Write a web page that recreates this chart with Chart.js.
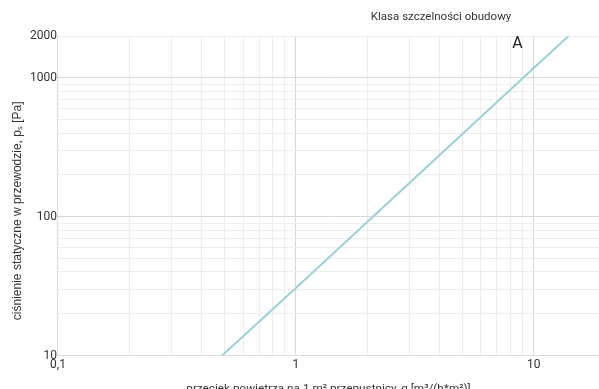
<!DOCTYPE html>
<html lang="pl">
<head>
<meta charset="utf-8">
<title>Klasa szczelności obudowy</title>
<script src="https://cdn.jsdelivr.net/npm/chart.js@4.4.1/dist/chart.umd.min.js"></script>
<style>
  html, body { margin: 0; padding: 0; background: #fff; overflow: hidden; }
  canvas { display: block; }
</style>
</head>
<body>
<canvas id="chart" width="599" height="396"></canvas>
<script>
// leakage line for casing class A (log-log)
const flowValues = [0.49, 1, 10, 14];
const pressureValues = [10, 30.6, 1175, 2000];

// grid positions and the labelled ones
const xGridValues = [0.1, 0.2, 0.3, 0.4, 0.5, 0.6, 0.7, 0.8, 0.9,
                     1, 2, 3, 4, 5, 6, 7, 8, 9, 10];
const xTickValues = [0.1, 1, 10];
const xTickLabels = ['0,1', '1', '10'];
const yGridValues = [10, 20, 30, 40, 50, 60, 70, 80, 90,
                     100, 200, 300, 400, 500, 600, 700, 800, 900,
                     1000, 2000];
const yTickValues = [10, 100, 1000, 2000];
const yTickLabels = ['10', '100', '1000', '2000'];

const chartTitle = 'Klasa szczelności obudowy';
const yAxisTitle = 'ciśnienie statyczne w przewodzie, pₛ [Pa]';
const xAxisTitle = 'przeciek powietrza na 1 m² przepustnicy, q [m³/(h*m²)]';
const classLabel = 'A';
const classLabelAt = [8.55, 1760];

function labelFor(values, labels, v) {
    const i = values.findIndex(t => Math.abs(t - v) / t < 1e-6);
    return i < 0 ? '' : labels[i];
}

function gridColor(majors) {
    return function (c) {
        const v = c.tick ? c.tick.value : null;
        if (v === null) return '#ececec';
        return majors.some(t => Math.abs(t - v) / t < 1e-6) ? '#d9d9d9' : '#ededed';
    };
}

// chart title, y axis title and the class letter next to the line
const annotations = {
    id: 'annotations',
    afterDraw(chart) {
        const ctx = chart.ctx;
        const area = chart.chartArea;
        const xs = chart.scales.x;
        const ys = chart.scales.y;
        ctx.save();
        ctx.textAlign = 'center';
        ctx.textBaseline = 'middle';

        ctx.fillStyle = '#333';
        ctx.font = '11.5px Roboto';
        ctx.fillText(chartTitle, area.left + area.width * 0.708, 17);

        ctx.fillStyle = '#222';
        ctx.font = '16px Roboto';
        ctx.fillText(classLabel, xs.getPixelForValue(classLabelAt[0]), ys.getPixelForValue(classLabelAt[1]));

        ctx.translate(17.5, area.top + area.height * 0.547);
        ctx.rotate(-Math.PI / 2);
        ctx.fillStyle = '#333';
        ctx.font = '12px "Liberation Sans"';
        ctx.fillText(yAxisTitle, 0, 0);
        ctx.restore();
    }
};

new Chart(document.getElementById('chart'), {
    type: 'line',
    data: {
        datasets: [{
            label: classLabel,
            data: flowValues.map((x, i) => ({ x: x, y: pressureValues[i] })),
            borderColor: '#9dd1d5',
            borderWidth: 2,
            pointRadius: 0,
            tension: 0,
            fill: false
        }]
    },
    options: {
        responsive: false,
        animation: false,
        layout: { padding: { top: 36, left: 29, right: 0, bottom: 0 } },
        plugins: {
            legend: { display: false },
            tooltip: { enabled: false }
        },
        scales: {
            x: {
                type: 'logarithmic',
                min: 0.1,
                max: 18.8,
                afterBuildTicks: scale => { scale.ticks = xGridValues.map(v => ({ value: v })); },
                ticks: {
                    autoSkip: false,
                    maxRotation: 0,
                    padding: 2,
                    color: '#333',
                    font: { family: 'Roboto', size: 12 },
                    callback: v => labelFor(xTickValues, xTickLabels, v)
                },
                grid: { color: gridColor(xTickValues), drawTicks: false },
                border: { color: '#dcdcdc' },
                title: {
                    display: true,
                    text: xAxisTitle,
                    color: '#333',
                    font: { family: 'Roboto', size: 11.75 },
                    padding: { top: 8, bottom: 0 }
                }
            },
            y: {
                type: 'logarithmic',
                min: 10,
                max: 2000,
                afterBuildTicks: scale => { scale.ticks = yGridValues.map(v => ({ value: v })); },
                ticks: {
                    autoSkip: false,
                    padding: 1,
                    color: '#333',
                    font: { family: 'Roboto', size: 12 },
                    callback: v => labelFor(yTickValues, yTickLabels, v)
                },
                grid: { color: gridColor([100, 1000]), drawTicks: false },
                border: { color: '#dcdcdc' }
            }
        }
    },
    plugins: [annotations]
});
</script>
</body>
</html>
